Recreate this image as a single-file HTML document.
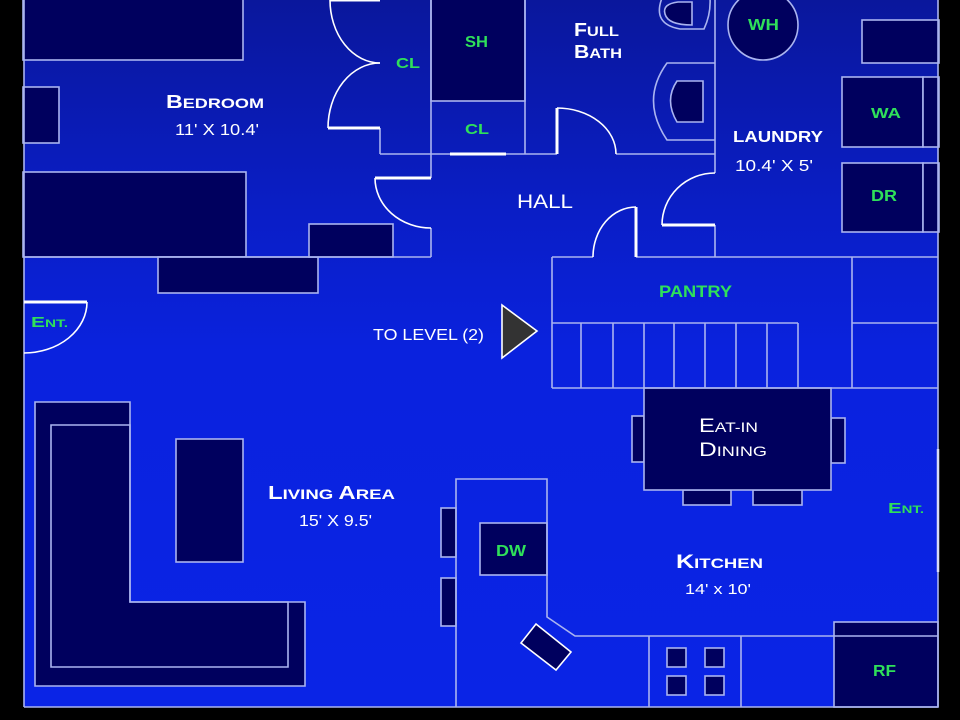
<!DOCTYPE html>
<html><head><meta charset="utf-8"><style>
html,body{margin:0;padding:0;background:#000;width:960px;height:720px;overflow:hidden}
svg{display:block}
text{font-family:"Liberation Sans",sans-serif}
</style></head><body>
<svg width="960" height="720" viewBox="0 0 960 720" xmlns="http://www.w3.org/2000/svg">
<defs>
<linearGradient id="bg" x1="0" y1="0" x2="0" y2="1">
<stop offset="0" stop-color="#0a179c"/>
<stop offset="0.3" stop-color="#0a1ec6"/>
<stop offset="0.5" stop-color="#0a22de"/>
<stop offset="1" stop-color="#0a24e6"/>
</linearGradient>
</defs>
<rect x="0" y="0" width="960" height="720" fill="#000"/>
<rect x="24" y="0" width="914" height="707" fill="url(#bg)"/>

<g fill="#00005e" stroke="#aab4f0" stroke-width="1.6">
<!-- bedroom furniture -->
<rect x="23" y="-2" width="220" height="62"/>
<rect x="23" y="87" width="36" height="56"/>
<rect x="23" y="172" width="223" height="85"/>
<rect x="158" y="257" width="160" height="36"/>
<rect x="309" y="224" width="84" height="33"/>
<!-- shower -->
<rect x="431" y="-2" width="94" height="103"/>
<!-- bath fixtures -->
<path d="M662,-2 Q652,24 680,29 L704,29 Q711,14 710,-2" fill="none"/>
<path d="M692,2 L678,2 Q662,4 665,14 Q668,25 692,25 Z"/>
<path d="M715,63 L667,63 Q640,100 667,140 L715,140" fill="none"/>
<path d="M703,81 L677,81 Q664,100 677,122 L703,122 Z"/>
<!-- laundry -->
<circle cx="763" cy="25" r="35"/>
<rect x="862" y="20" width="77" height="43"/>
<rect x="842" y="77" width="81" height="70"/>
<rect x="923" y="77" width="16" height="70"/>
<rect x="842" y="163" width="81" height="69"/>
<rect x="923" y="163" width="16" height="69"/>
<!-- dining -->
<rect x="632" y="416" width="12" height="46"/>
<rect x="831" y="418" width="14" height="45"/>
<rect x="683" y="490" width="48" height="15"/>
<rect x="753" y="490" width="49" height="15"/>
<rect x="644" y="388" width="187" height="102"/>
<!-- living -->
<path d="M35,402 L130,402 L130,602 L305,602 L305,686 L35,686 Z"/>
<path d="M51,425 L130,425 L130,602 L288,602 L288,667 L51,667 Z" fill="none"/>
<rect x="176" y="439" width="67" height="123"/>
<!-- kitchen -->
<rect x="441" y="508" width="15" height="49"/>
<rect x="441" y="578" width="15" height="48"/>
<rect x="480" y="523" width="67" height="52"/>
<rect x="834" y="622" width="104" height="85"/>
<rect x="667" y="648" width="19" height="19"/>
<rect x="705" y="648" width="19" height="19"/>
<rect x="667" y="676" width="19" height="19"/>
<rect x="705" y="676" width="19" height="19"/>
<path d="M521,643 L536,624 L571,652 L556,670 Z" stroke="#ffffff"/>
</g>

<g fill="none" stroke="#aab4f0" stroke-width="1.6">
<!-- outer walls -->
<line x1="24" y1="0" x2="24" y2="707"/>
<line x1="24" y1="707" x2="938" y2="707"/>
<line x1="938" y1="0" x2="938" y2="449"/>
<line x1="938" y1="572" x2="938" y2="707"/>
<!-- bedroom walls -->
<line x1="24" y1="257" x2="431" y2="257"/>
<line x1="431" y1="0" x2="431" y2="178"/>
<line x1="431" y1="228" x2="431" y2="257"/>
<line x1="380" y1="128" x2="380" y2="154"/>
<line x1="380" y1="154" x2="557" y2="154"/>
<line x1="525" y1="0" x2="525" y2="154"/>
<line x1="616" y1="154" x2="715" y2="154"/>
<line x1="715" y1="0" x2="715" y2="173"/>
<line x1="715" y1="225" x2="715" y2="257"/>
<!-- pantry -->
<line x1="552" y1="257" x2="593" y2="257"/>
<line x1="636" y1="257" x2="938" y2="257"/>
<line x1="552" y1="257" x2="552" y2="388"/>
<line x1="552" y1="388" x2="938" y2="388"/>
<line x1="552" y1="323" x2="798" y2="323"/>
<line x1="852" y1="257" x2="852" y2="388"/>
<line x1="852" y1="323" x2="938" y2="323"/>
<line x1="581" y1="323" x2="581" y2="388"/>
<line x1="613" y1="323" x2="613" y2="388"/>
<line x1="644" y1="323" x2="644" y2="388"/>
<line x1="674" y1="323" x2="674" y2="388"/>
<line x1="705" y1="323" x2="705" y2="388"/>
<line x1="736" y1="323" x2="736" y2="388"/>
<line x1="767" y1="323" x2="767" y2="388"/>
<line x1="798" y1="323" x2="798" y2="388"/>
<!-- kitchen counter -->
<path d="M456,707 L456,479 L547,479 L547,617 L575,636 L938,636"/>
<line x1="649" y1="636" x2="649" y2="707"/>
<line x1="741" y1="636" x2="741" y2="707"/>
</g>

<!-- doors -->
<g fill="none" stroke="#ffffff" stroke-width="1.6">
<path d="M330,0 A50 63 0 0 0 380 63"/>
<path d="M380,63 A52 65 0 0 0 328 128"/>
<path d="M375,178 A56 50 0 0 0 431 228"/>
<path d="M557,108 A59 46 0 0 1 616 154"/>
<path d="M715,173 A53 52 0 0 0 662 225"/>
<path d="M636,207 A43 50 0 0 0 593 257"/>
<path d="M87,302 A63 51 0 0 1 24 353"/>
</g>
<g stroke="#ffffff" stroke-width="3">
<line x1="330" y1="0" x2="380" y2="0"/>
<line x1="328" y1="128" x2="380" y2="128"/>
<line x1="375" y1="178" x2="431" y2="178"/>
<line x1="450" y1="154" x2="506" y2="154"/>
<line x1="557" y1="108" x2="557" y2="154"/>
<line x1="662" y1="225" x2="715" y2="225"/>
<line x1="636" y1="207" x2="636" y2="257"/>
<line x1="24" y1="302" x2="87" y2="302"/>
<line x1="938" y1="449" x2="938" y2="572" stroke="#d8dcf8" stroke-width="2.5"/>
</g>

<!-- stairs arrow -->
<path d="M502,305 L537,331 L502,358 Z" fill="#333333" stroke="#ffffff" stroke-width="1.6"/>

<!-- white labels -->
<g fill="#ffffff">
<text x="166" y="108" textLength="98" lengthAdjust="spacingAndGlyphs" font-weight="bold"><tspan font-size="18">B</tspan><tspan font-size="14">EDROOM</tspan></text>
<text x="175" y="135" textLength="84" lengthAdjust="spacingAndGlyphs" font-size="16">11' X 10.4'</text>
<text x="574" y="36" textLength="45" lengthAdjust="spacingAndGlyphs" font-weight="bold"><tspan font-size="18">F</tspan><tspan font-size="14">ULL</tspan></text>
<text x="574" y="58" textLength="48" lengthAdjust="spacingAndGlyphs" font-weight="bold"><tspan font-size="18">B</tspan><tspan font-size="14">ATH</tspan></text>
<text x="517" y="208" textLength="56" lengthAdjust="spacingAndGlyphs" font-size="19">HALL</text>
<text x="733" y="142" textLength="90" lengthAdjust="spacingAndGlyphs" font-size="16" font-weight="bold">LAUNDRY</text>
<text x="735" y="171" textLength="78" lengthAdjust="spacingAndGlyphs" font-size="16">10.4'  X 5'</text>
<text x="373" y="340" textLength="111" lengthAdjust="spacingAndGlyphs" font-size="16">TO LEVEL (2)</text>
<text x="699" y="432" textLength="59" lengthAdjust="spacingAndGlyphs"><tspan font-size="19">E</tspan><tspan font-size="14">AT-IN</tspan></text>
<text x="699" y="456" textLength="68" lengthAdjust="spacingAndGlyphs"><tspan font-size="19">D</tspan><tspan font-size="14">INING</tspan></text>
<text x="268" y="499" textLength="127" lengthAdjust="spacingAndGlyphs" font-weight="bold"><tspan font-size="18">L</tspan><tspan font-size="14">IVING </tspan><tspan font-size="18">A</tspan><tspan font-size="14">REA</tspan></text>
<text x="299" y="526" textLength="73" lengthAdjust="spacingAndGlyphs" font-size="16">15' X 9.5'</text>
<text x="676" y="568" textLength="87" lengthAdjust="spacingAndGlyphs" font-weight="bold"><tspan font-size="19">K</tspan><tspan font-size="14">ITCHEN</tspan></text>
<text x="685" y="594" textLength="66" lengthAdjust="spacingAndGlyphs" font-size="15">14' x 10'</text>
</g>

<!-- green labels -->
<g fill="#2fe05a" font-weight="bold">
<text x="396" y="68" textLength="24" lengthAdjust="spacingAndGlyphs" font-size="15">CL</text>
<text x="465" y="47" textLength="23" lengthAdjust="spacingAndGlyphs" font-size="16">SH</text>
<text x="465" y="134" textLength="24" lengthAdjust="spacingAndGlyphs" font-size="15">CL</text>
<text x="748" y="30" textLength="31" lengthAdjust="spacingAndGlyphs" font-size="16">WH</text>
<text x="871" y="118" textLength="30" lengthAdjust="spacingAndGlyphs" font-size="15">WA</text>
<text x="871" y="201" textLength="26" lengthAdjust="spacingAndGlyphs" font-size="16">DR</text>
<text x="31" y="327" textLength="37" lengthAdjust="spacingAndGlyphs"><tspan font-size="15">E</tspan><tspan font-size="11">NT.</tspan></text>
<text x="659" y="297" textLength="73" lengthAdjust="spacingAndGlyphs" font-size="17">PANTRY</text>
<text x="888" y="513" textLength="36" lengthAdjust="spacingAndGlyphs"><tspan font-size="15">E</tspan><tspan font-size="11">NT.</tspan></text>
<text x="496" y="556" textLength="30" lengthAdjust="spacingAndGlyphs" font-size="16">DW</text>
<text x="873" y="676" textLength="23" lengthAdjust="spacingAndGlyphs" font-size="16">RF</text>
</g>
</svg>
</body></html>
